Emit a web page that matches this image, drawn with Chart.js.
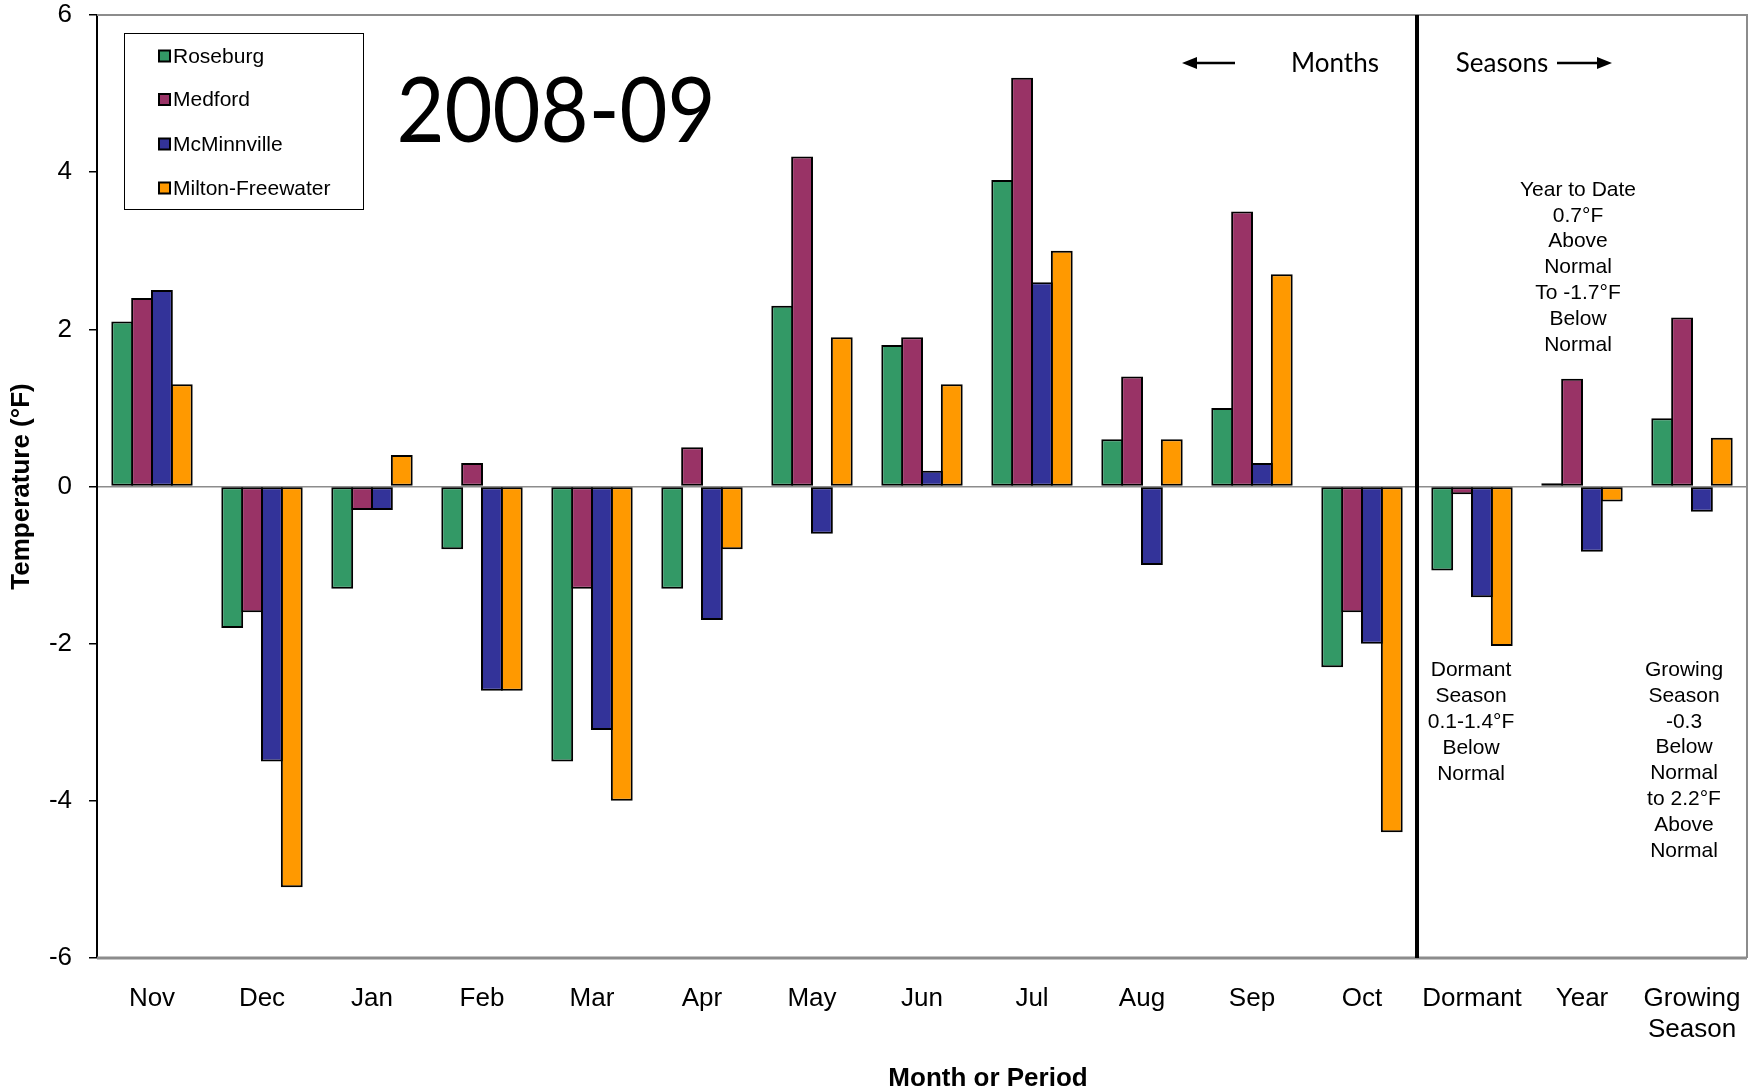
<!DOCTYPE html>
<html>
<head>
<meta charset="utf-8">
<title>2008-09 Temperature Departures</title>
<script src="https://cdn.jsdelivr.net/npm/chart.js@4.4.1/dist/chart.umd.min.js"></script>
<style>
  html, body { margin: 0; padding: 0; background: #fff; }
  #wrap { width: 1753px; height: 1092px; }
</style>
</head>
<body>
<div id="wrap"><canvas id="c" width="1753" height="1092"></canvas></div>
<script>
// Departure from normal temperature (°F) by month and by season
const categories = ['Nov', 'Dec', 'Jan', 'Feb', 'Mar', 'Apr', 'May', 'Jun', 'Jul', 'Aug', 'Sep', 'Oct',
                    'Dormant', 'Year', ['Growing', 'Season']];
const roseburg        = [2.1, -1.8, -1.3, -0.8, -3.5, -1.3,  2.3, 1.8, 3.9,  0.6, 1.0, -2.3, -1.07,  0.04,  0.87];
const medford         = [2.4, -1.6, -0.3,  0.3, -1.3,  0.5,  4.2, 1.9, 5.2,  1.4, 3.5, -1.6, -0.10,  1.37,  2.15];
const mcminnville     = [2.5, -3.5, -0.3, -2.6, -3.1, -1.7, -0.6, 0.2, 2.6, -1.0, 0.3, -2.0, -1.41, -0.83, -0.32];
const miltonFreewater = [1.3, -5.1,  0.4, -2.6, -4.0, -0.8,  1.9, 1.3, 3.0,  0.6, 2.7, -4.4, -2.03, -0.19,  0.62];
const yTicks = [-6, -4, -2, 0, 2, 4, 6];

const seriesNames  = ['Roseburg', 'Medford', 'McMinnville', 'Milton-Freewater'];
const seriesValues = [roseburg, medford, mcminnville, miltonFreewater];
const seriesColors = ['#339966', '#993366', '#333399', '#FF9900'];

// Notes printed inside the seasonal part of the plot
const yearNote    = ['Year to Date', '0.7°F', 'Above', 'Normal', 'To -1.7°F', 'Below', 'Normal'];
const dormantNote = ['Dormant', 'Season', '0.1-1.4°F', 'Below', 'Normal'];
const growingNote = ['Growing', 'Season', '-0.3', 'Below', 'Normal', 'to 2.2°F', 'Above', 'Normal'];
const xTitle = 'Month or Period';

const ARIAL = '"Liberation Sans", Arial, sans-serif';
const SANS2 = 'Lato, "Open Sans", sans-serif';

Chart.defaults.font.family = ARIAL;
Chart.defaults.color = '#000';

function arrow(ctx, x1, x2, y) {
  // shaft from x1 to the head, head pointing at x2
  const dir = Math.sign(x2 - x1);
  const headLen = 15, half = 6;
  ctx.beginPath();
  ctx.moveTo(x1, y);
  ctx.lineTo(x2 - dir * headLen, y);
  ctx.lineWidth = 2.5;
  ctx.strokeStyle = '#000';
  ctx.stroke();
  ctx.beginPath();
  ctx.moveTo(x2, y);
  ctx.lineTo(x2 - dir * headLen, y - half);
  ctx.lineTo(x2 - dir * headLen, y + half);
  ctx.closePath();
  ctx.fillStyle = '#000';
  ctx.fill();
}

function noteBlock(ctx, lines, cx, y0, dy) {
  ctx.font = '21px ' + ARIAL;
  ctx.textAlign = 'center';
  ctx.textBaseline = 'middle';
  ctx.fillStyle = '#000';
  lines.forEach((t, i) => ctx.fillText(t, cx, y0 + i * dy));
}

const decorations = {
  id: 'decorations',
  afterDatasetsDraw(chart) {
    const { ctx, chartArea: a, scales: { x } } = chart;
    ctx.save();

    // grey frame on top, right and bottom of the plot area
    ctx.strokeStyle = '#8c8c8c';
    ctx.lineWidth = 2;
    ctx.beginPath();
    ctx.moveTo(a.left, a.top);
    ctx.lineTo(a.right, a.top);
    ctx.lineTo(a.right, a.bottom);
    ctx.stroke();
    ctx.lineWidth = 3;
    ctx.beginPath();
    ctx.moveTo(a.left, a.bottom);
    ctx.lineTo(a.right, a.bottom);
    ctx.stroke();

    // divider between the monthly and the seasonal groups
    const sx = (x.getPixelForValue(11) + x.getPixelForValue(12)) / 2;
    ctx.strokeStyle = '#000';
    ctx.lineWidth = 4;
    ctx.beginPath();
    ctx.moveTo(sx, a.top);
    ctx.lineTo(sx, a.bottom);
    ctx.stroke();

    // legend box
    ctx.lineWidth = 1;
    ctx.strokeStyle = '#000';
    ctx.strokeRect(124.5, 33.5, 239, 176);
    const rows = [56, 99.5, 144, 188];
    chart.data.datasets.forEach((ds, i) => {
      const cy = rows[i];
      ctx.fillStyle = '#000';
      ctx.fillRect(158, cy - 6.5, 13, 13);
      ctx.fillStyle = ds.backgroundColor;
      ctx.fillRect(160, cy - 4.5, 9, 9);
      ctx.fillStyle = '#000';
      ctx.font = '21px ' + ARIAL;
      ctx.textAlign = 'left';
      ctx.textBaseline = 'middle';
      ctx.fillText(ds.label, 173, cy + 1);
    });

    // season heading
    ctx.font = '92px ' + SANS2;
    ctx.textAlign = 'center';
    ctx.textBaseline = 'alphabetic';
    const title = '2008-09';
    const w = ctx.measureText(title).width;
    ctx.save();
    ctx.translate(556, 142);
    ctx.scale(319 / w, 1);
    ctx.fillText(title, 0, 0);
    ctx.restore();

    // direction labels
    ctx.font = '26px ' + SANS2;
    ctx.textAlign = 'center';
    ctx.textBaseline = 'middle';
    ctx.fillText('Months', 1335, 64);
    ctx.fillText('Seasons', 1502, 64);
    arrow(ctx, 1235, 1182, 63);
    arrow(ctx, 1557, 1612, 63);

    // notes
    noteBlock(ctx, yearNote, 1578, 190, 25.8);
    noteBlock(ctx, dormantNote, 1471, 670, 26);
    noteBlock(ctx, growingNote, 1684, 670, 25.9);

    // horizontal axis title
    ctx.font = 'bold 26px ' + ARIAL;
    ctx.textAlign = 'center';
    ctx.textBaseline = 'middle';
    ctx.fillText(xTitle, 988, 1079);

    ctx.restore();
  }
};

new Chart(document.getElementById('c'), {
  type: 'bar',
  data: {
    labels: categories,
    datasets: seriesNames.map((name, i) => ({
      label: name,
      data: seriesValues[i],
      backgroundColor: seriesColors[i],
      borderColor: '#000',
      borderWidth: 2,
      borderSkipped: false,
      categoryPercentage: 0.722,
      barPercentage: 1.1
    }))
  },
  options: {
    responsive: false,
    animation: false,
    layout: { padding: { top: 15, right: 6, left: 0, bottom: 0 } },
    plugins: { legend: { display: false }, tooltip: { enabled: false } },
    scales: {
      x: {
        grid: { display: false, drawTicks: false },
        border: { display: false },
        ticks: { font: { size: 26, lineHeight: 1.2 }, padding: 25, color: '#000', maxRotation: 0, autoSkip: false },
        title: { display: false },
        afterFit(s) { s.height = 134; s.paddingLeft = 0; s.paddingRight = 0; }
      },
      y: {
        min: -6,
        max: 6,
        afterBuildTicks(s) { s.ticks = yTicks.map(v => ({ value: v })); },
        grid: {
          color: c => (c.tick && c.tick.value === 0 ? '#8c8c8c' : 'rgba(0,0,0,0)'),
          lineWidth: 1.5,
          drawTicks: true,
          tickLength: 8,
          tickColor: '#000',
          tickWidth: 1.5
        },
        border: { color: '#000', width: 2 },
        ticks: { font: { size: 26, lineHeight: 1 }, padding: 17, color: '#000' },
        title: { display: true, text: 'Temperature (°F)', font: { size: 26, weight: 'bold', lineHeight: 1.2 }, padding: { top: 6, bottom: 0 }, color: '#000' },
        afterFit(s) { s.width = 97; s.paddingTop = 0; s.paddingBottom = 0; }
      }
    }
  },
  plugins: [decorations]
});
</script>
</body>
</html>
